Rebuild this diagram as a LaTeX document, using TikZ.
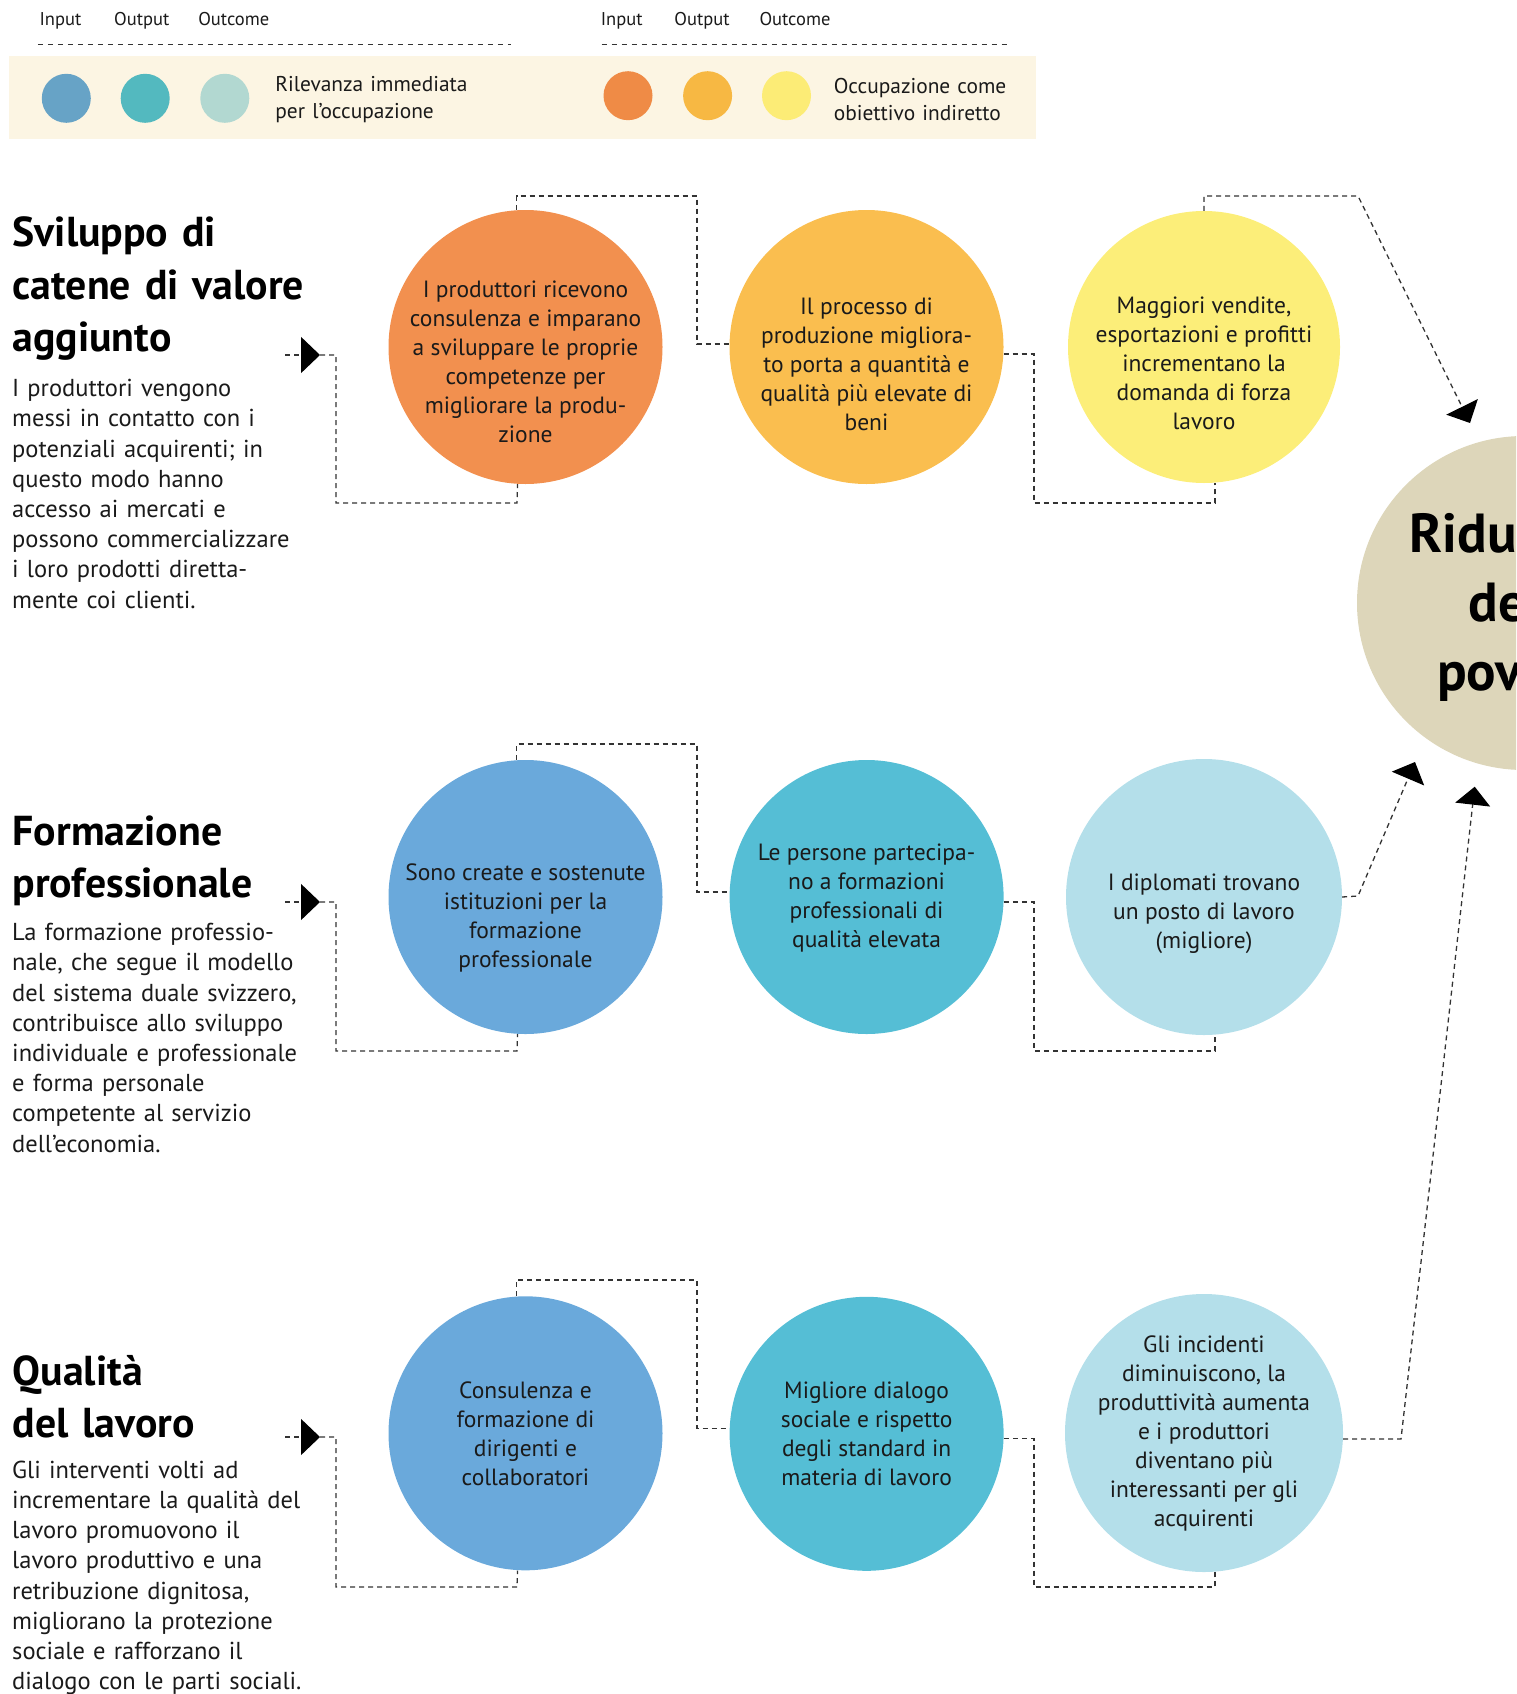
\documentclass[tikz,border=0pt]{standalone}
\usepackage{fontspec}
\setmainfont{PT Sans}
\usetikzlibrary{arrows.meta,calc}
\definecolor{oA}{HTML}{F2904F}
\definecolor{oB}{HTML}{FABE4F}
\definecolor{oC}{HTML}{FCEE79}
\definecolor{bA}{HTML}{6AA9DB}
\definecolor{bB}{HTML}{55BED5}
\definecolor{bC}{HTML}{B4DFEA}
\definecolor{goalc}{HTML}{DDD6BA}
\definecolor{lA}{HTML}{67A3C6}
\definecolor{lB}{HTML}{53B9BF}
\definecolor{lC}{HTML}{B2D8D1}
\definecolor{rA}{HTML}{EF8B46}
\definecolor{rB}{HTML}{F7B843}
\definecolor{rC}{HTML}{FCEC76}
\definecolor{band}{HTML}{FCF5E3}
\definecolor{txt}{HTML}{1A1A1A}
\definecolor{lineg}{HTML}{333333}
\begin{document}
\begin{tikzpicture}[x=1pt,y=-1pt,
  circ/.style={circle,inner sep=0pt,minimum size=274pt},
  legc/.style={circle,inner sep=0pt,minimum size=49pt},
  ctext/.style={align=center,inner sep=0pt,text=txt,font=\fontsize{23.5}{29}\selectfont},
  conn/.style={draw=lineg,line width=1.3pt,dash pattern=on 5pt off 4pt},
  legline/.style={draw=lineg,line width=1.2pt,dash pattern=on 5pt off 5pt},
  tipr/.style={-{Triangle[length=19pt,width=36pt,color=black]}},
  tipd/.style={-{Triangle[length=18pt,width=35pt,color=black]}},
  headtext/.style={anchor=base west,inner sep=0pt,text width=330pt,align=left,text=black,font=\bfseries\fontsize{41.8}{52.5}\selectfont},
  bodytext/.style={anchor=base west,inner sep=0pt,text width=330pt,align=left,text=txt,font=\fontsize{24.5}{30.2}\selectfont},
  legtext/.style={anchor=base west,inner sep=0pt,text width=250pt,align=left,text=txt,font=\fontsize{21.4}{27.3}\selectfont},
  leghead/.style={anchor=base,inner sep=0pt,text=txt,font=\fontsize{18.5}{20}\selectfont}
]
\useasboundingbox (0,0) rectangle (1516,1694);
\clip (0,0) rectangle (1516,1694);

% ---------- legend ----------
\fill[band] (9.3,55.8) rectangle (1035.8,138.7);
\node[leghead] (hI1) at (60.4,25.9) {Input};
\node[leghead] (hO1) at (141.7,25.9) {Output};
\node[leghead] (hC1) at (233.8,25.9) {Outcome};
\node[leghead] (hI2) at (621.7,25.9) {Input};
\node[leghead] (hO2) at (702,25.9) {Output};
\node[leghead] (hC2) at (795,25.9) {Outcome};
\coordinate (ll1) at (37.8,44.8); \coordinate (ll2) at (510.6,44.8);
\coordinate (lr1) at (601.5,44.8); \coordinate (lr2) at (1008,44.8);
\draw[legline] (ll1) -- (ll2);
\draw[legline] (lr1) -- (lr2);
\node[legc,fill=lA] (lg1) at (66.3,98.3) {};
\node[legc,fill=lB] (lg2) at (145.2,98.3) {};
\node[legc,fill=lC] (lg3) at (224.8,98.3) {};
\node[legc,fill=rA] (lg4) at (628,95.7) {};
\node[legc,fill=rB] (lg5) at (707.6,95.7) {};
\node[legc,fill=rC] (lg6) at (786.5,95.7) {};
\node[legtext] (legt1) at (275.2,91.3) {Rilevanza immediata\\per l’occupazione};
\node[legtext] (legt2) at (833.6,93) {Occupazione come\\obiettivo indiretto};

% ---------- goal ----------
\node[circle,inner sep=0pt,minimum size=334pt,fill=goalc] (goal) at (1524,603) {};
\node[align=center,inner sep=0pt,text=black,font=\bfseries\fontsize{55}{69}\selectfont] (goalt) at (1527,607) {Riduzione\\della\\povertà};

% ---------- left texts ----------
\node[headtext] (h1) at (12.5,246.7) {Sviluppo di\\catene di valore\\aggiunto};
\node[bodytext] (b1) at (12,396.7) {I produttori vengono\\messi in contatto con i\\potenziali acquirenti; in\\questo modo hanno\\accesso ai mercati e\\possono commercializzare\\i loro prodotti diretta-\\mente coi clienti.};
\node[headtext] (h2) at (12.5,845) {Formazione\\professionale};
\node[bodytext] (b2) at (12,940.7) {La formazione professio-\\nale, che segue il modello\\del sistema duale svizzero,\\contribuisce allo sviluppo\\individuale e professionale\\e forma personale\\competente al servizio\\dell’economia.};
\node[headtext] (h3) at (12.5,1385) {Qualità\\del lavoro};
\node[bodytext] (b3) at (12,1478.3) {Gli interventi volti ad\\incrementare la qualità del\\lavoro promuovono il\\lavoro produttivo e una\\retribuzione dignitosa,\\migliorano la protezione\\sociale e rafforzano il\\dialogo con le parti sociali.};

% ---------- circles ----------
\node[circ,fill=oA] (c11) at (525.5,347) {};
\node[circ,fill=oB] (c12) at (866.5,347) {};
\node[circ,fill=oC,minimum size=272pt] (c13) at (1204,347) {};
\node[circ,fill=bA] (c21) at (525.5,897) {};
\node[circ,fill=bB] (c22) at (866.6,897) {};
\node[circ,fill=bC,minimum size=276pt] (c23) at (1204,897) {};
\node[circ,fill=bA] (c31) at (525.5,1433.3) {};
\node[circ,fill=bB] (c32) at (866.6,1433.8) {};
\node[circ,fill=bC,minimum size=278pt] (c33) at (1204,1433) {};

\node[ctext] (t11) at ([yshift=-15pt]c11.center) {I produttori ricevono\\consulenza e imparano\\a sviluppare le proprie\\competenze per\\migliorare la produ-\\zione};
\node[ctext] (t12) at ([yshift=-17pt]c12.center) {Il processo di\\produzione migliora-\\to porta a quantità e\\qualità più elevate di\\beni};
\node[ctext] (t13) at ([yshift=-16pt]c13.center) {Maggiori vendite,\\esportazioni e profitti\\incrementano la\\domanda di forza\\lavoro};
\node[ctext] (t21) at ([yshift=-21pt]c21.center) {Sono create e sostenute\\istituzioni per la\\formazione\\professionale};
\node[ctext] (t22) at ([yshift=-1pt]c22.center) {Le persone partecipa-\\no a formazioni\\professionali di\\qualità elevata};
\node[ctext] (t23) at ([yshift=-17pt]c23.center) {I diplomati trovano\\un posto di lavoro\\(migliore)};
\node[ctext] (t31) at (c31.center) {Consulenza e\\formazione di\\dirigenti e\\collaboratori};
\node[ctext] (t32) at (c32.center) {Migliore dialogo\\sociale e rispetto\\degli standard in\\materia di lavoro};
\node[ctext] (t33) at (c33.center) {Gli incidenti\\diminuiscono, la\\produttività aumenta\\e i produttori\\diventano più\\interessanti per gli\\acquirenti};

% ---------- connector ends ----------
\coordinate (s1) at (285,355);  \coordinate (p1) at (320,355);
\coordinate (s2) at (285,902);  \coordinate (p2) at (320,902);
\coordinate (s3) at (285,1437); \coordinate (p3) at (320,1437);
\coordinate (a1) at (1470,423);
\coordinate (a2) at (1415,762);
\coordinate (a3) at (1474.7,786.7);

% ---------- row 1 ----------
\draw[conn,tipr] (s1) -- (p1);
\draw[conn] (p1) -- (336,355) |- (517,503) -- ([xshift=-8pt]c11.south);
\draw[conn] ([xshift=-9pt]c11.north) |- (697,196) |- ([yshift=3pt]c12.west);
\draw[conn] ([yshift=-7pt]c12.east) -| (1034,503) -| ([xshift=11pt]c13.south);
\draw[conn,tipd] (c13.north) |- (1358,196) -- (a1);

% ---------- row 2 ----------
\draw[conn,tipr] (s2) -- (p2);
\draw[conn] (p2) -- (336,902) |- (517,1051) -- ([xshift=-8pt]c21.south);
\draw[conn] ([xshift=-9pt]c21.north) |- (697,744) |- ([yshift=5pt]c22.west);
\draw[conn] ([yshift=-5pt]c22.east) -| (1034,1051) -| ([xshift=11pt]c23.south);
\draw[conn,tipd] (c23.east) -- (1358,896) -- (a2);

% ---------- row 3 ----------
\draw[conn,tipr] (s3) -- (p3);
\draw[conn] (p3) -- (336,1437) |- (517,1587) -- ([xshift=-8pt]c31.south);
\draw[conn] ([xshift=-9pt]c31.north) |- (697,1280) |- ([yshift=5pt]c32.west);
\draw[conn] ([yshift=-5pt]c32.east) -| (1034,1587) -| ([xshift=11pt]c33.south);
\draw[conn,tipd] ([yshift=-6pt]c33.east) -- (1401,1439) -- (a3);
\end{tikzpicture}
\end{document}
